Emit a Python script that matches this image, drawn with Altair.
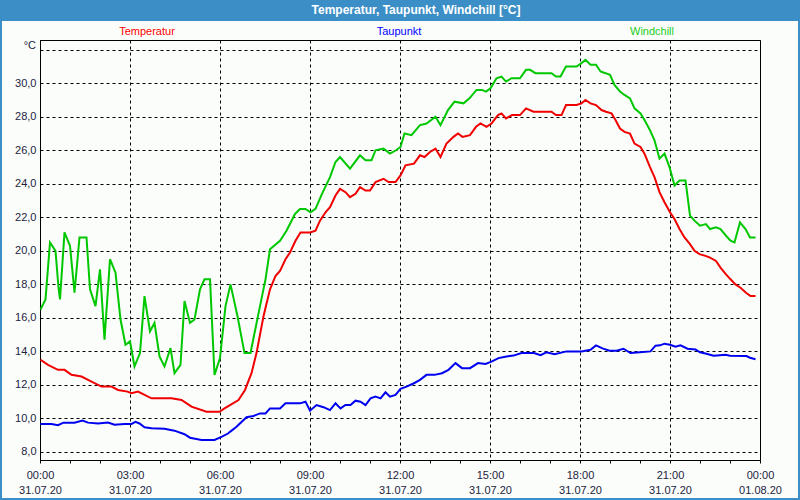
import altair as alt
import pandas as pd

# ---- data (minutes since 31.07.20 00:00, °C) ----
temp_time = [1, 16, 36, 49, 63, 83, 103, 123, 143, 156, 175, 183, 196, 223, 263, 283, 303, 333, 359, 369,
             380, 397, 410, 423, 433, 447, 460, 471, 480, 491, 500, 511, 521, 540, 551, 560, 571, 580, 591, 600,
             611, 620, 631, 640, 651, 660, 671, 687, 697, 711, 721, 731, 748, 760, 769, 780, 791, 801, 813, 827,
             836, 845, 860, 872, 881, 893, 903, 916, 923, 932, 944, 960, 972, 987, 1008, 1023, 1032, 1043, 1052, 1073,
             1083, 1091, 1101, 1112, 1123, 1132, 1143, 1151, 1160, 1169, 1180, 1189, 1201, 1209, 1220, 1229, 1239, 1249, 1260, 1269,
             1279, 1289, 1300, 1309, 1319, 1331, 1340, 1352, 1361, 1372, 1381, 1391, 1401, 1412, 1421, 1431]
temp_vals = [13.5, 13.2, 12.9, 12.9, 12.6, 12.5, 12.2, 11.9, 11.9, 11.7, 11.6, 11.5, 11.6, 11.2, 11.2, 11.1, 10.7, 10.4, 10.4, 10.6,
             10.8, 11.1, 11.7, 12.7, 13.9, 16.1, 17.7, 18.5, 18.8, 19.5, 19.9, 20.6, 21.1, 21.1, 21.2, 21.8, 22.3, 22.6, 23.3, 23.7,
             23.5, 23.2, 23.4, 23.8, 23.6, 23.6, 24.1, 24.3, 24.1, 24.1, 24.5, 25.1, 25.2, 25.7, 25.6, 25.9, 26.1, 25.6, 26.4, 26.8,
             27.0, 26.8, 26.9, 27.4, 27.6, 27.4, 27.6, 28.1, 28.2, 27.9, 28.1, 28.1, 28.5, 28.3, 28.3, 28.3, 28.1, 28.1, 28.7, 28.7,
             28.8, 29.0, 28.8, 28.7, 28.4, 28.3, 28.2, 27.8, 27.3, 27.1, 27.0, 26.4, 26.2, 25.8, 25.0, 24.4, 23.5, 22.9, 22.3, 21.9,
             21.3, 20.8, 20.4, 20.0, 19.8, 19.7, 19.6, 19.4, 19.0, 18.6, 18.3, 18.0, 17.8, 17.5, 17.3, 17.3]

dew_time = [1, 23, 36, 47, 69, 85, 96, 116, 136, 149, 169, 183, 191, 199, 209, 223, 249, 269, 289, 300,
            323, 349, 363, 376, 380, 393, 413, 427, 440, 451, 460, 471, 480, 491, 520, 531, 540, 553, 567, 580,
            591, 601, 611, 621, 631, 641, 651, 661, 671, 681, 691, 700, 711, 721, 733, 748, 760, 773, 789, 804,
            817, 831, 844, 860, 876, 891, 904, 917, 933, 947, 963, 975, 988, 1001, 1013, 1029, 1053, 1073, 1083, 1101,
            1112, 1125, 1139, 1153, 1167, 1181, 1200, 1221, 1231, 1240, 1249, 1260, 1271, 1281, 1295, 1311, 1320, 1333, 1347, 1360,
            1371, 1380, 1413, 1420, 1431]
dew_vals = [9.67, 9.67, 9.6, 9.75, 9.75, 9.87, 9.75, 9.7, 9.75, 9.63, 9.67, 9.67, 9.8, 9.7, 9.47, 9.41, 9.39, 9.27, 9.06, 8.85,
            8.72, 8.72, 8.9, 9.1, 9.2, 9.5, 10.07, 10.15, 10.3, 10.3, 10.6, 10.6, 10.6, 10.9, 10.9, 11.0, 10.46, 10.8, 10.67, 10.5,
            10.9, 10.6, 10.8, 10.8, 11.06, 11.0, 10.8, 11.2, 11.3, 11.2, 11.56, 11.3, 11.4, 11.76, 11.9, 12.1, 12.3, 12.6, 12.6, 12.7,
            12.9, 13.3, 13.0, 13.0, 13.3, 13.25, 13.4, 13.6, 13.7, 13.75, 13.9, 13.9, 13.9, 13.77, 13.95, 13.83, 14.0, 14.0, 14.0, 14.1,
            14.36, 14.18, 14.04, 14.04, 14.16, 13.9, 13.95, 14.0, 14.34, 14.36, 14.46, 14.4, 14.28, 14.36, 14.16, 14.12, 13.95, 13.86, 13.74, 13.77,
            13.8, 13.74, 13.72, 13.62, 13.53]

wind_time = [1, 11, 20, 31, 37, 40, 49, 60, 69, 79, 93, 100, 111, 120, 129, 140, 151, 161, 171, 180,
             189, 200, 209, 220, 229, 239, 249, 261, 269, 281, 289, 300, 309, 320, 329, 340, 349, 360, 371, 381,
             395, 409, 421, 440, 451, 460, 480, 493, 510, 520, 531, 541, 551, 564, 580, 591, 600, 620, 640, 651,
             663, 671, 687, 700, 712, 721, 729, 743, 760, 773, 791, 801, 816, 829, 847, 859, 873, 884, 892, 901,
             913, 923, 932, 943, 960, 972, 980, 991, 1007, 1023, 1032, 1041, 1052, 1073, 1083, 1091, 1101, 1112, 1121, 1131,
             1140, 1149, 1160, 1169, 1180, 1189, 1201, 1209, 1220, 1229, 1239, 1249, 1259, 1269, 1279, 1291, 1300, 1309, 1320, 1332,
             1340, 1352, 1361, 1372, 1381, 1389, 1400, 1411, 1420, 1431]
wind_vals = [16.5, 17.1, 20.5, 20.0, 17.8, 17.1, 21.1, 20.3, 17.5, 20.8, 20.8, 17.7, 16.7, 18.9, 14.7, 19.5, 18.7, 15.9, 14.4, 14.6,
             13.1, 13.9, 17.3, 15.2, 15.7, 13.7, 13.1, 14.2, 12.7, 13.2, 17.0, 15.7, 15.9, 17.7, 18.3, 18.3, 12.6, 13.6, 16.7, 18.0,
             16.1, 13.9, 13.9, 16.7, 18.3, 20.1, 20.6, 21.2, 22.2, 22.5, 22.5, 22.3, 22.5, 23.4, 24.4, 25.3, 25.6, 24.9, 25.7, 25.4,
             25.4, 26.0, 26.1, 25.8, 26.0, 26.2, 27.0, 26.9, 27.5, 27.6, 28.0, 27.5, 28.4, 28.9, 28.8, 29.1, 29.6, 29.6, 29.5, 29.7,
             30.3, 30.4, 30.1, 30.3, 30.3, 30.8, 30.8, 30.6, 30.6, 30.6, 30.4, 30.4, 31.0, 31.0, 31.2, 31.4, 31.1, 31.1, 30.7, 30.6,
             30.5, 29.9, 29.5, 29.3, 29.1, 28.5, 28.2, 27.8, 27.2, 26.6, 25.5, 25.8, 25.0, 23.9, 24.2, 24.2, 22.1, 21.8, 21.5, 21.6,
             21.3, 21.4, 21.3, 20.9, 20.6, 20.5, 21.7, 21.3, 20.8, 20.8]

series_names = ["Temperatur", "Taupunkt", "Windchill"]
series_colors = ["#f00000", "#0000f0", "#00c800"]
label_colors = ["#ff0000", "#0000ff", "#22cc22"]
label_x = [107, 359, 612]
title_text = "Temperatur, Taupunkt, Windchill [°C]"
y_ticks = [8, 10, 12, 14, 16, 18, 20, 22, 24, 26, 28, 30, 32]
x_ticks = list(range(0, 1441, 60))

BLUE = "#3c8fc6"
FONT = "Liberation Sans"

rows = []
for name, tt, vv in zip(series_names, [temp_time, dew_time, wind_time], [temp_vals, dew_vals, wind_vals]):
    for t, v in zip(tt, vv):
        rows.append({"serie": name, "t": t, "v": v})
df = pd.DataFrame(rows)

x_enc = alt.X("t:Q", scale=alt.Scale(domain=[0, 1440], nice=False),
              axis=alt.Axis(values=x_ticks, title=None, tickSize=3, tickColor="black",
                            grid=True, gridColor="black", gridDash=[3, 3], gridWidth=1,
                            gridOpacity={"condition": {"test": "datum.value % 180 === 0", "value": 1}, "value": 0},
                            labelExpr="datum.value % 180 === 0 ? [(floor(datum.value/60)%24 < 10 ? '0' : '') + (floor(datum.value/60)%24) + ':00', datum.value < 1440 ? '31.07.20' : '01.08.20'] : ''",
                            labelOverlap=False, labelFlush=False, labelPadding=6, labelLineHeight=15,
                            labelBaseline="top", domainColor="black"))
y_enc = alt.Y("v:Q", scale=alt.Scale(domain=[7.52, 32.58], nice=False, zero=False),
              axis=alt.Axis(values=y_ticks, title=None, ticks=False, grid=True, gridColor="black",
                            gridDash=[3, 3], gridWidth=1, labelPadding=4, domainColor="black",
                            labelExpr="datum.value == 32 ? '' : replace(format(datum.value, '.1f'), '.', ',')"))

lines = alt.Chart(df).mark_line(strokeWidth=2, interpolate="linear").encode(
    x=x_enc, y=y_enc,
    color=alt.Color("serie:N", scale=alt.Scale(domain=series_names, range=series_colors), legend=None),
    detail="serie:N",
)

one = pd.DataFrame({"a": [0]})
title_bar = alt.Chart(one).mark_rect(color=BLUE).encode(
    x=alt.value(-40), x2=alt.value(760), y=alt.value(-40), y2=alt.value(-19))
frame = alt.Chart(one).mark_rect(fillOpacity=0, stroke=BLUE, strokeWidth=2).encode(
    x=alt.value(-39), x2=alt.value(759), y=alt.value(-39), y2=alt.value(459))
title = alt.Chart(pd.DataFrame({"txt": [title_text]})).mark_text(
    color="white", font=FONT, fontSize=12, fontWeight="bold", align="center", baseline="middle").encode(
    x=alt.value(376), y=alt.value(-30), text="txt:N")
unit = alt.Chart(pd.DataFrame({"txt": ["°C"]})).mark_text(
    color="#1c2340", font=FONT, fontSize=11, align="right", baseline="middle").encode(
    x=alt.value(-4), y=alt.value(6), text="txt:N")
legend_df = pd.DataFrame({"name": series_names, "lx": label_x, "col": label_colors})
legend = alt.Chart(legend_df).mark_text(font=FONT, fontSize=11, align="center", baseline="middle").encode(
    x=alt.X("lx:Q", scale=None), y=alt.value(-8), text="name:N",
    color=alt.Color("col:N", scale=None, legend=None))

chart = alt.layer(title_bar, frame, lines, title, unit, legend).resolve_scale(color="independent").properties(
    width=720, height=420,
    autosize=alt.AutoSizeParams(type="none"),
    padding={"left": 40, "top": 40, "right": 40, "bottom": 40},
    background="#fbfdfb",
).configure_view(stroke="black", strokeWidth=1).configure_axis(
    labelFont=FONT, labelFontSize=11, labelColor="#1c2340")

chart.save("out.html", embed_options={"renderer": "svg", "actions": False})
